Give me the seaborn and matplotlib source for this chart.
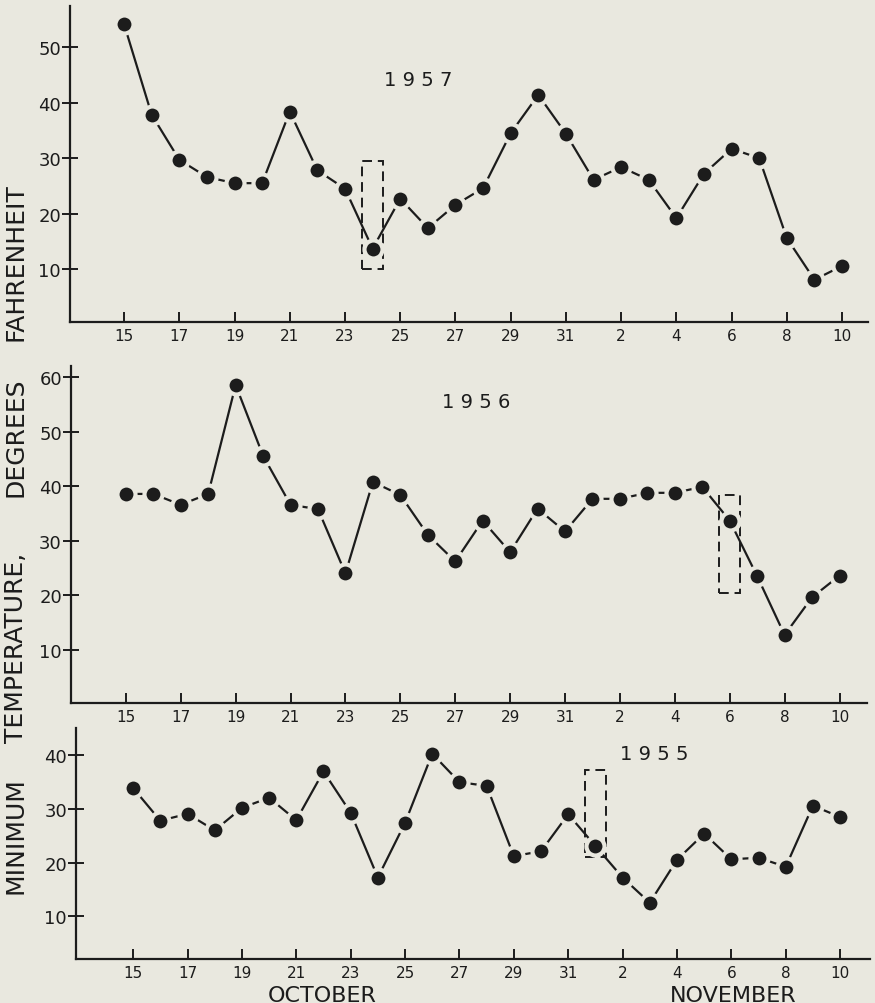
"""
Minimum daily temperature, Oct 15 - Nov 10, three seasons.
"""

import numpy as np
import pandas as pd
import matplotlib
matplotlib.use("Agg")
import matplotlib.pyplot as plt
from matplotlib.patches import Rectangle
import seaborn as sns


BG = "#E9E8DF"
INK = "#1C1C1C"

# day index 0 = Oct 15, 16 = Oct 31, 26 = Nov 10
DAYS = list(range(27))
TICK_POS = DAYS[::2]
TICK_LABELS = ["15", "17", "19", "21", "23", "25", "27", "29", "31",
               "2", "4", "6", "8", "10"]

TEMP_1957 = [54.1, 37.8, 29.7, 26.6, 25.5, 25.5, 38.4, 27.8, 24.5, 13.7,
             22.7, 17.4, 21.6, 24.6, 34.5, 41.4, 34.4, 26.1, 28.4, 26.1,
             19.2, 27.2, 31.7, 30.0, 15.6, 8.1, 10.6]
TEMP_1956 = [38.6, 38.6, 36.6, 38.6, 58.6, 45.6, 36.6, 35.8, 24.0, 40.8,
             38.4, 31.1, 26.2, 33.7, 27.9, 35.9, 31.7, 37.7, 37.7, 38.8,
             38.8, 39.9, 33.7, 23.5, 12.7, 19.6, 23.6]
TEMP_1955 = [33.9, 27.8, 29.1, 26.0, 30.2, 32.1, 27.9, 37.0, 29.3, 17.2,
             27.4, 40.3, 35.0, 34.3, 21.2, 22.1, 29.0, 23.1, 17.2, 12.5,
             20.5, 25.4, 20.6, 20.9, 19.2, 30.6, 28.5]

YEARS = ["1957", "1956", "1955"]
YTICKS = [[10, 20, 30, 40, 50], [10, 20, 30, 40, 50, 60], [10, 20, 30, 40]]

# dashed box around one day in each season: day index, low, high
BOX_DAY = [9, 22, 17]
BOX_LOW = [10.0, 20.4, 21.1]
BOX_HIGH = [29.5, 38.4, 37.3]

sns.set_style("ticks")
plt.rcParams["font.family"] = ["DejaVu Sans"]

fig = plt.figure(figsize=(8.75, 10.04), dpi=100)
fig.patch.set_facecolor(BG)

rects = [[0.0800, 0.6783, 0.9120, 0.3147],
         [0.0811, 0.2988, 0.9097, 0.3357],
         [0.0869, 0.0438, 0.9074, 0.2301]]
xlims = [(-1.96, 26.94), (-2.0, 27.0), (-2.1, 27.1)]
ylims = [(0.5, 57.4), (0.2, 62.1), (2.0, 45.1)]
year_xy = [(10.66, 44.2), (12.77, 55.5), (19.18, 40.3)]

series = [TEMP_1957, TEMP_1956, TEMP_1955]

for i, vals in enumerate(series):
    ax = fig.add_axes(rects[i])
    ax.set_facecolor(BG)
    df = pd.DataFrame({"day": DAYS, "temp": vals})
    sns.lineplot(data=df, x="day", y="temp", ax=ax, color=INK,
                 linewidth=1.6, marker="o", markersize=13,
                 markerfacecolor=INK, markeredgecolor=BG,
                 markeredgewidth=3.0, zorder=3)

    ax.add_patch(Rectangle((BOX_DAY[i] - 0.38, BOX_LOW[i]), 0.76,
                           BOX_HIGH[i] - BOX_LOW[i], fill=False,
                           edgecolor=INK, linewidth=1.4,
                           linestyle=(0, (5, 3)), zorder=2))

    ax.text(year_xy[i][0], year_xy[i][1], " ".join(YEARS[i]),
            fontsize=14, color=INK, ha="center", va="center")

    ax.set_xlim(*xlims[i])
    ax.set_ylim(*ylims[i])
    ax.set_xticks(TICK_POS)
    ax.set_xticklabels(TICK_LABELS)
    ax.set_yticks(YTICKS[i])
    ax.set_xlabel("")
    ax.set_ylabel("")

    sns.despine(ax=ax)
    for side in ["left", "bottom"]:
        ax.spines[side].set_linewidth(1.6)
        ax.spines[side].set_color(INK)
    ax.tick_params(axis="x", direction="in", length=7, width=1.4,
                   colors=INK, labelsize=11, pad=4)
    ax.tick_params(axis="y", direction="inout", length=11, width=1.4,
                   colors=INK, labelsize=13, pad=1)

fig.text(322 / 875, 1 - 1002 / 1004, "OCTOBER", fontsize=16, color=INK,
         ha="center", va="baseline")
fig.text(733 / 875, 1 - 1002 / 1004, "NOVEMBER", fontsize=16, color=INK,
         ha="center", va="baseline")

for word, yc in [("MINIMUM", 836), ("TEMPERATURE,", 648),
                 ("DEGREES", 437), ("FAHRENHEIT", 262)]:
    fig.text(16 / 875, 1 - yc / 1004, word, fontsize=18, color=INK,
             rotation=90, ha="center", va="center")

plt.savefig("out.png", dpi=100, facecolor=fig.get_facecolor())
plt.close(fig)
